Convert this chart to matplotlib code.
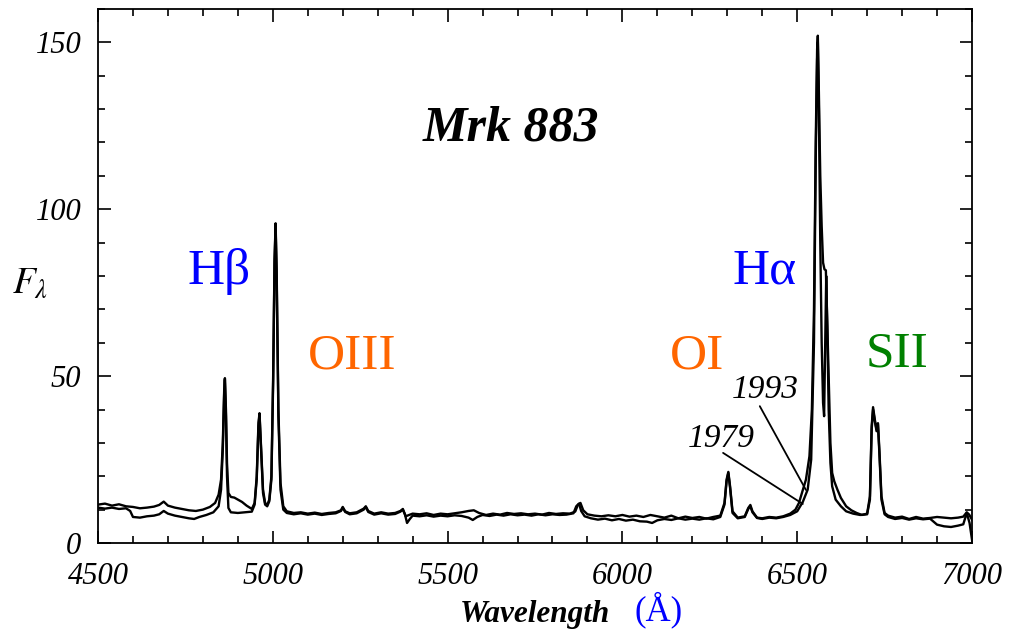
import matplotlib
matplotlib.use("Agg")
import matplotlib.pyplot as plt
from matplotlib.ticker import MultipleLocator

plt.rcParams['mathtext.fontset'] = 'stix'

# ---------------- data ----------------
wave_1993 = [4500, 4520, 4540, 4560, 4580, 4600, 4620, 4640, 4660, 4675, 4688, 4700,
             4720, 4740, 4760, 4780, 4800, 4820, 4835, 4845, 4852, 4857, 4861, 4863,
             4866, 4869, 4873, 4880, 4890, 4900, 4912, 4925, 4940, 4948, 4954, 4959,
             4962, 4966, 4972, 4978, 4984, 4990, 4996, 5001, 5005, 5008, 5011, 5016,
             5022, 5030, 5040, 5060, 5080, 5100, 5120, 5140, 5160, 5180, 5195, 5200,
             5207, 5220, 5240, 5260, 5266, 5273, 5290, 5310, 5330, 5350, 5365, 5372,
             5380, 5390, 5400, 5420, 5440, 5460, 5480, 5500, 5520, 5540, 5560, 5575,
             5590, 5610, 5630, 5650, 5670, 5690, 5710, 5730, 5750, 5770, 5790, 5810,
             5830, 5850, 5865, 5873, 5880, 5888, 5900, 5920, 5940, 5960, 5980, 6000,
             6020, 6040, 6060, 6080, 6100, 6120, 6140, 6160, 6180, 6200, 6220, 6240,
             6260, 6280, 6292, 6298, 6303, 6308, 6315, 6330, 6350, 6360, 6366, 6372,
             6385, 6400, 6420, 6440, 6460, 6480, 6495, 6505, 6515, 6525, 6535, 6542,
             6548, 6553, 6557, 6559, 6562, 6566, 6570, 6574, 6578, 6582, 6585, 6590,
             6595, 6600, 6606, 6615, 6625, 6640, 6655, 6670, 6685, 6700, 6708, 6713,
             6717, 6722, 6727, 6731, 6735, 6741, 6750, 6760, 6780, 6800, 6820, 6840,
             6860, 6880, 6900, 6920, 6940, 6960, 6975, 6985, 6992, 7000]
flux_1993 = [11.5, 11.8, 11.2, 11.6, 11.0, 10.8, 10.4, 10.6, 10.9, 11.4, 12.4, 11.2,
             10.6, 10.2, 9.8, 9.6, 10.0, 10.8, 12.0, 14.5, 19.0, 30.0, 46.0, 49.4,
             40.0, 24.0, 15.0, 13.8, 13.6, 13.0, 12.3, 11.2, 10.2, 12.0, 20.0, 36.0,
             38.9, 30.0, 16.0, 12.0, 11.4, 13.0, 20.0, 50.0, 85.0, 95.8, 82.0, 40.0,
             18.0, 11.0, 9.5, 9.0, 9.2, 8.8, 9.1, 8.7, 9.0, 9.2, 9.8, 10.8,
             9.5, 8.9, 9.2, 10.3, 11.0, 9.6, 8.8, 9.2, 8.8, 9.0, 9.6, 10.2,
             8.0, 8.4, 8.8, 8.6, 8.9, 8.4, 8.8, 8.6, 8.9, 9.2, 9.6, 9.8,
             9.0, 8.4, 8.8, 8.5, 9.0, 8.7, 8.9, 8.6, 8.8, 8.5, 9.0, 8.7,
             8.9, 8.8, 9.4, 11.5, 12.0, 9.8, 8.6, 8.2, 8.0, 8.3, 8.0, 8.4,
             7.9, 8.2, 7.8, 8.4, 8.0, 7.6, 8.2, 7.4, 7.9, 7.5, 7.8, 7.3,
             7.8, 8.2, 12.0, 19.0, 21.3, 17.0, 9.5, 7.6, 8.0, 10.5, 11.4, 9.5,
             7.6, 7.4, 7.8, 7.6, 8.0, 8.8, 10.0, 12.0, 15.5, 19.0, 26.0, 40.0,
             70.0, 120.0, 148.0, 152.0, 135.0, 110.0, 95.0, 84.0, 82.0, 81.7, 70.0, 50.0,
             30.0, 21.0, 18.5, 16.0, 13.5, 11.0, 9.8, 9.0, 8.4, 8.8, 14.0, 35.0,
             40.7, 37.0, 34.0, 35.9, 28.0, 14.0, 9.0, 8.2, 7.6, 7.9, 7.2, 7.8,
             7.3, 7.5, 7.8, 7.6, 7.4, 7.6, 7.9, 9.2, 8.5, 7.0]

wave_1979 = [4500, 4520, 4540, 4560, 4580, 4592, 4600, 4620, 4640, 4660, 4675, 4688,
             4700, 4720, 4740, 4760, 4775, 4790, 4810, 4830, 4845, 4852, 4857, 4861,
             4863, 4866, 4869, 4873, 4880, 4900, 4920, 4940, 4948, 4954, 4959, 4962,
             4966, 4972, 4978, 4984, 4990, 4996, 5001, 5005, 5008, 5011, 5016, 5022,
             5030, 5040, 5060, 5080, 5100, 5120, 5140, 5160, 5180, 5195, 5200, 5207,
             5220, 5240, 5260, 5266, 5273, 5290, 5310, 5330, 5350, 5365, 5372, 5378,
             5384, 5392, 5400, 5420, 5440, 5460, 5480, 5500, 5520, 5540, 5560, 5572,
             5585, 5600, 5620, 5640, 5660, 5680, 5700, 5720, 5740, 5760, 5780, 5800,
             5820, 5840, 5860, 5868, 5876, 5882, 5892, 5910, 5930, 5950, 5970, 5990,
             6010, 6030, 6050, 6070, 6085, 6100, 6120, 6140, 6160, 6180, 6200, 6220,
             6240, 6260, 6280, 6292, 6298, 6303, 6308, 6315, 6330, 6350, 6360, 6366,
             6372, 6385, 6400, 6420, 6440, 6460, 6480, 6500, 6516, 6530, 6540, 6548,
             6553, 6557, 6559, 6562, 6566, 6570, 6574, 6577, 6580, 6583, 6586, 6590,
             6595, 6600, 6610, 6625, 6640, 6660, 6680, 6700, 6708, 6713, 6717, 6722,
             6727, 6731, 6735, 6741, 6750, 6760, 6780, 6800, 6820, 6840, 6860, 6880,
             6900, 6920, 6940, 6960, 6975, 6985, 6993, 7000]
flux_1979 = [10.6, 10.3, 10.6, 10.2, 10.4, 9.6, 7.8, 7.6, 8.0, 8.2, 8.6, 9.6,
             8.8, 8.2, 7.8, 7.4, 7.2, 7.8, 8.4, 9.2, 11.0, 16.0, 28.0, 45.0,
             49.0, 38.0, 20.0, 10.5, 9.2, 9.0, 9.2, 9.4, 11.5, 19.0, 35.0, 38.5,
             29.0, 15.0, 11.5, 11.0, 12.5, 19.0, 48.0, 84.0, 95.0, 80.0, 38.0, 16.0,
             10.0, 9.0, 8.6, 8.9, 8.5, 8.8, 8.4, 8.7, 8.9, 9.6, 10.6, 9.3,
             8.6, 8.9, 10.0, 10.8, 9.3, 8.5, 8.9, 8.5, 8.7, 9.4, 10.0, 8.6,
             6.0, 7.2, 8.2, 8.0, 8.3, 7.9, 8.2, 8.0, 8.3, 8.1, 7.6, 6.9,
             7.8, 8.4, 8.1, 8.5, 8.2, 8.6, 8.3, 8.5, 8.2, 8.6, 8.3, 8.6,
             8.4, 8.5, 8.9, 11.0, 11.8, 9.6, 8.0, 7.4, 7.0, 7.3, 6.8, 7.2,
             6.7, 7.0, 6.5, 6.4, 6.0, 6.8, 7.2, 6.9, 7.4, 7.0, 7.3, 7.0,
             7.4, 7.1, 7.8, 11.5, 18.5, 21.0, 16.5, 9.0, 7.4, 7.8, 10.2, 11.0,
             9.2, 7.5, 7.2, 7.6, 7.4, 7.8, 8.4, 9.5, 12.3, 16.0, 25.0, 60.0,
             115.0, 145.0, 150.0, 130.0, 90.0, 60.0, 42.0, 38.0, 60.0, 80.0, 65.0, 40.0,
             24.0, 17.0, 13.0, 11.0, 9.5, 8.8, 8.4, 8.6, 13.0, 34.0, 40.0, 36.5,
             33.5, 35.5, 27.0, 13.0, 8.6, 7.8, 7.2, 7.5, 7.0, 7.4, 7.1, 7.3,
             5.5, 5.0, 4.8, 5.2, 5.6, 9.0, 6.0, 1.0]

line_labels = ["Hβ", "OIII", "OI", "Hα", "SII"]
line_label_x = [4757, 5101, 6136, 6316, 6697]
line_label_y = [77.5, 52.4, 52.4, 77.8, 53.0]
line_label_colors = ["#0000FF", "#FF6600", "#FF6600", "#0000FF", "#008000"]

epoch_labels = ["1993", "1979"]
epoch_text_xy = [(6313, 43.4), (6187, 28.7)]
epoch_line_start = [(6393, 41.0), (6288, 27.0)]
epoch_line_end = [(6525, 15.9), (6516, 11.7)]

# ---------------- figure ----------------
W, H = 1012, 629
fig = plt.figure(figsize=(W / 100, H / 100), dpi=100)
ax = fig.add_axes([98 / W, 1 - 543 / H, (972 - 98) / W, (543 - 9) / H])

ax.plot(wave_1993, flux_1993, color="black", lw=1.7)
ax.plot(wave_1979, flux_1979, color="black", lw=1.7)

ax.set_xlim(4500, 7000)
ax.set_ylim(0, 160)

ax.xaxis.set_major_locator(MultipleLocator(500))
ax.xaxis.set_minor_locator(MultipleLocator(100))
ax.yaxis.set_major_locator(MultipleLocator(50))
ax.yaxis.set_minor_locator(MultipleLocator(10))
ax.tick_params(which="both", direction="in", top=True, right=True, width=1.2, color="black")
ax.tick_params(which="major", length=9)
ax.tick_params(which="minor", length=5)
ax.tick_params(axis="x", which="major", pad=14)
ax.tick_params(axis="y", which="major", pad=12)
for sp in ax.spines.values():
    sp.set_linewidth(1.3)

serif = ["Liberation Serif", "DejaVu Serif"]
for lab in ax.get_xticklabels() + ax.get_yticklabels():
    lab.set_fontfamily(serif)
    lab.set_fontstyle("italic")
    lab.set_fontsize(22)

ax.text(5680, 120.7, "Mrk 883", ha="center", va="baseline", family=serif,
        style="italic", weight="bold", size=36)

for t, x, y, c in zip(line_labels, line_label_x, line_label_y, line_label_colors):
    ax.text(x, y, t, ha="left", va="baseline", color=c, family=serif, size=37)

for t, (x, y), s, e in zip(epoch_labels, epoch_text_xy, epoch_line_start, epoch_line_end):
    ax.text(x, y, t, ha="left", va="baseline", family=serif, style="italic", size=24)
    ax.annotate("", xy=e, xytext=s,
                arrowprops=dict(arrowstyle="-", color="black", lw=1.3, shrinkA=0, shrinkB=0))

fig.text(460 / W, 1 - 622 / H, "Wavelength", ha="left", va="baseline", family=serif,
         style="italic", weight="bold", size=22.5)
fig.text(634 / W, 1 - 620 / H, "(Å)", ha="left", va="baseline", family=serif,
         color="#0000FF", size=25)
fig.text(12 / W, 1 - 293 / H, r"$F_{\lambda}$", ha="left", va="baseline", size=27)

fig.savefig("out.png", dpi=100)
